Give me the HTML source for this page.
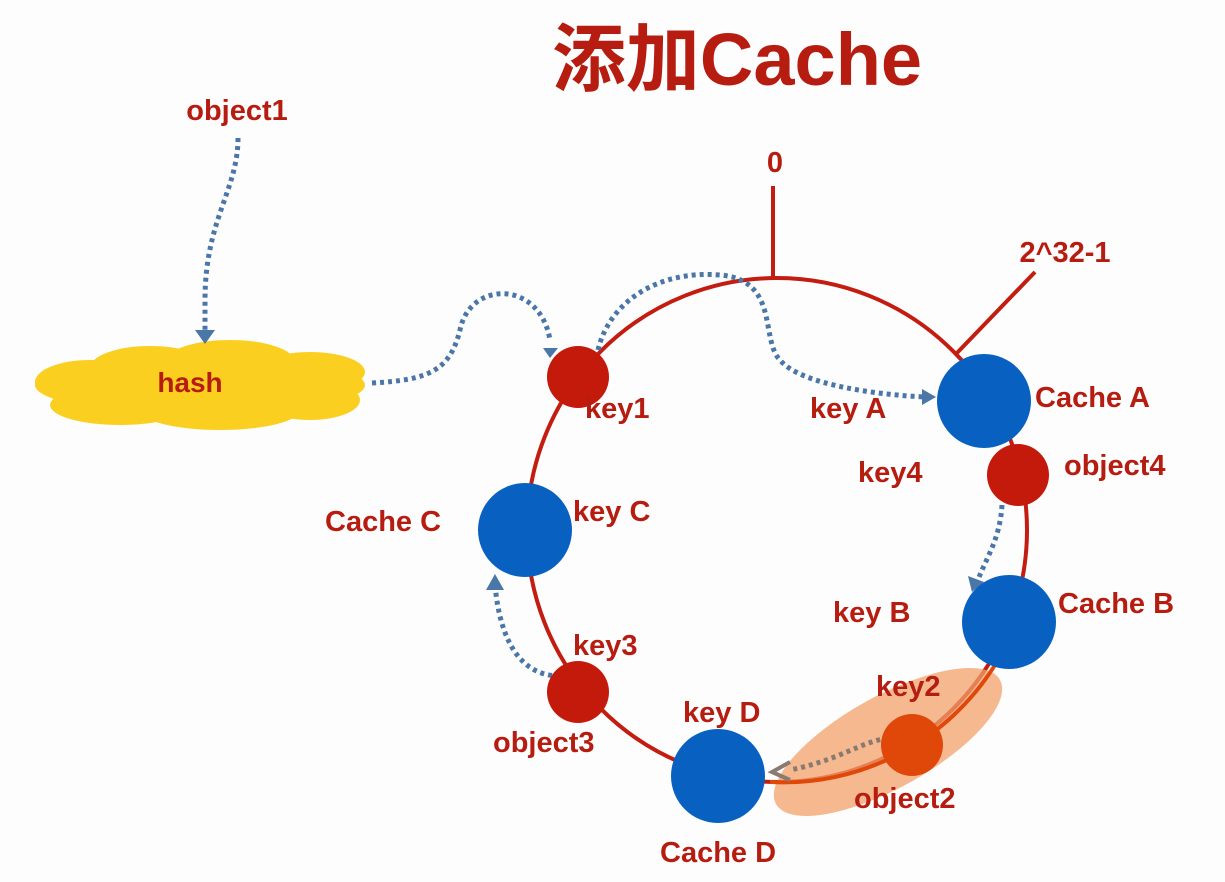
<!DOCTYPE html>
<html><head><meta charset="utf-8"><style>
html,body{margin:0;padding:0;background:#fdfdfd;}
svg{display:block;}
text{font-family:"Liberation Sans","Noto Sans CJK SC",sans-serif;font-weight:bold;fill:#b71c10;}
</style></head><body>
<svg width="1225" height="882" viewBox="0 0 1225 882">
<text x="737" y="85" font-size="74" text-anchor="middle">添加Cache</text>
<text x="237" y="120" font-size="29" text-anchor="middle">object1</text>
<text x="775" y="172" font-size="29" text-anchor="middle">0</text>
<text x="1065" y="262" font-size="29" text-anchor="middle">2^32-1</text>
<!-- cloud -->
<g fill="#fbcf1f">
<ellipse cx="200" cy="385" rx="165" ry="30"/>
<ellipse cx="90" cy="382" rx="55" ry="22"/>
<ellipse cx="150" cy="368" rx="60" ry="22"/>
<ellipse cx="230" cy="362" rx="65" ry="22"/>
<ellipse cx="310" cy="372" rx="55" ry="20"/>
<ellipse cx="120" cy="405" rx="70" ry="20"/>
<ellipse cx="220" cy="410" rx="80" ry="20"/>
<ellipse cx="310" cy="400" rx="50" ry="20"/>
</g>
<text x="190" y="392" font-size="28" text-anchor="middle">hash</text>
<!-- ring -->
<ellipse cx="777" cy="530" rx="250" ry="252" fill="none" stroke="#c21d10" stroke-width="4"/>
<line x1="773" y1="186" x2="773" y2="280" stroke="#c21d10" stroke-width="4"/>
<line x1="955" y1="355" x2="1035" y2="272" stroke="#c21d10" stroke-width="4"/>
<!-- orange highlight -->
<ellipse cx="888" cy="742" rx="128" ry="46" transform="rotate(-29 888 742)" fill="#f2a06a" opacity="0.75"/>
<path d="M995 665 A250 252 0 0 1 770 782" fill="none" stroke="#e0480a" stroke-width="4"/>
<!-- dotted connectors -->
<g fill="none" stroke="#4a77a8" stroke-width="5" stroke-dasharray="4 4">
<path d="M238 138 C238 190 205 220 205 300 L205 330"/>
<path d="M372 383 C430 380 450 370 460 330 C470 280 540 280 550 340"/>
<path d="M598 350 C610 300 660 270 720 275 C780 280 760 340 780 360 C800 385 880 395 925 397"/>
<path d="M1002 505 C1000 540 985 560 978 580"/>
<path d="M560 676 C520 676 500 640 495 585"/>
</g>
<g fill="#4a77a8">
<path d="M543 348 L558 348 L550 358Z"/>
<path d="M195 330 L215 330 L205 344Z"/>
<path d="M922 389 L936 397 L922 405Z"/>
<path d="M968 576 L984 582 L972 592Z"/>
<path d="M486 590 L504 590 L495 574Z"/>
</g>
<path d="M888 738 C860 742 840 760 790 770" fill="none" stroke="#8a7a70" stroke-width="5" stroke-dasharray="4 4"/>
<path d="M790 762 L772 772 L790 780" fill="none" stroke="#8a7a70" stroke-width="4"/>
<!-- nodes -->
<g fill="#c41a0c">
<circle cx="578" cy="377" r="31"/>
<circle cx="1018" cy="475" r="31"/>
<circle cx="578" cy="692" r="31"/>
</g>
<circle cx="912" cy="745" r="31" fill="#e0480a"/>
<g fill="#0861c0">
<circle cx="984" cy="401" r="47"/>
<circle cx="525" cy="530" r="47"/>
<circle cx="1009" cy="622" r="47"/>
<circle cx="718" cy="776" r="47"/>
</g>
<g font-size="29">
<text x="585" y="418">key1</text>
<text x="810" y="418">key A</text>
<text x="1035" y="407">Cache A</text>
<text x="858" y="482">key4</text>
<text x="1064" y="475">object4</text>
<text x="325" y="531">Cache C</text>
<text x="573" y="521">key C</text>
<text x="833" y="622">key B</text>
<text x="1058" y="613">Cache B</text>
<text x="573" y="655">key3</text>
<text x="493" y="752">object3</text>
<text x="683" y="722">key D</text>
<text x="876" y="696">key2</text>
<text x="854" y="808">object2</text>
<text x="660" y="862">Cache D</text>
</g>
</svg>
</body></html>
